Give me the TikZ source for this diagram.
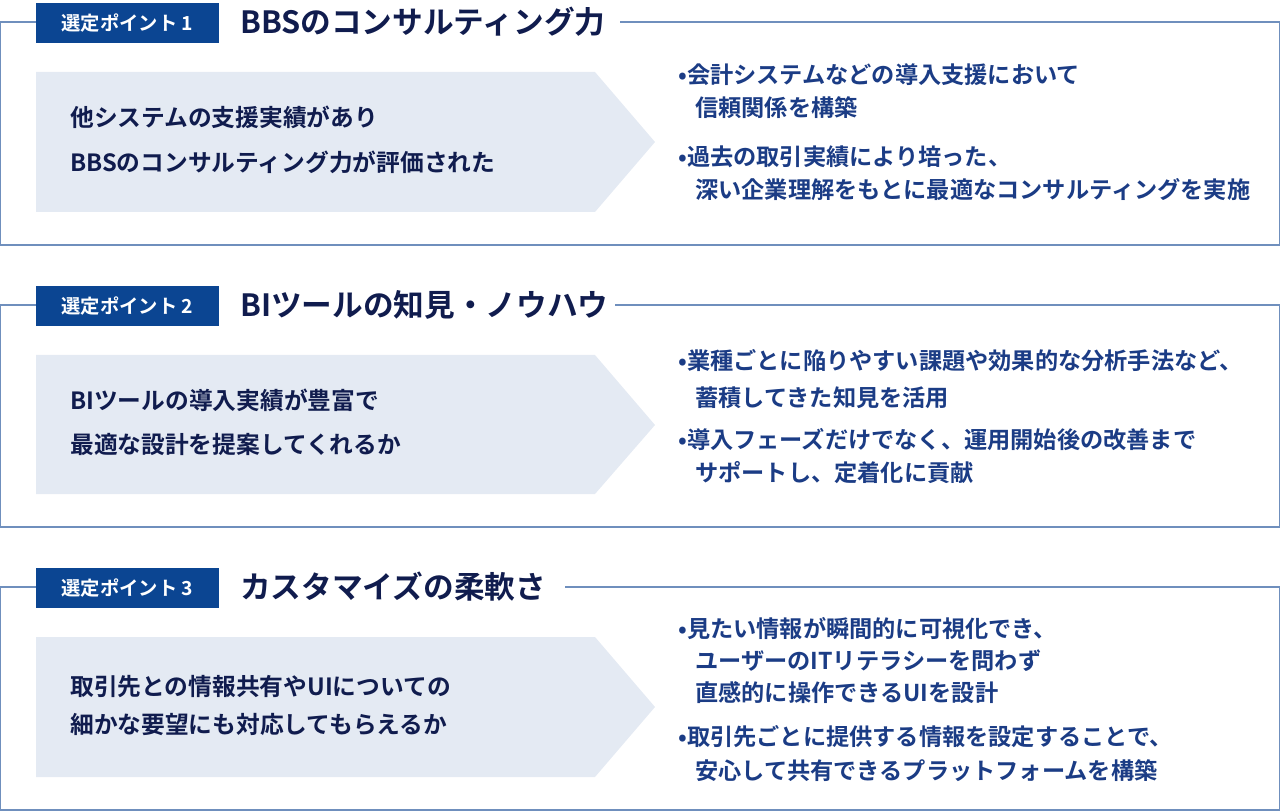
\documentclass[tikz,border=0pt]{standalone}
\usepackage{fontspec}
\setmainfont{Noto Sans CJK JP}[BoldFont={* Bold}]
\definecolor{frameC}{HTML}{6F8FBD}
\definecolor{labC}{HTML}{0B4592}
\definecolor{titC}{HTML}{101C4E}
\definecolor{greyC}{HTML}{E4EAF3}
\definecolor{bulC}{HTML}{1B3C85}
\begin{document}
\begin{tikzpicture}[x=0.75pt,y=-0.75pt,
  lab/.style={fill=labC,text=white,font=\bfseries\fontsize{14.5}{16}\selectfont,minimum width=137pt,minimum height=30pt,inner sep=0pt},
  tit/.style={text=titC,font=\bfseries\fontsize{23}{26}\selectfont,anchor=west,inner sep=0pt},
  frm/.style={draw=frameC,line width=0.9pt},
  lt/.style={text=titC,font=\bfseries\fontsize{17.8}{20}\selectfont,anchor=west,inner sep=0pt},
  bt/.style={text=bulC,font=\bfseries\fontsize{17.4}{20}\selectfont,anchor=west,inner sep=0pt}]
\useasboundingbox (0,0) rectangle (1280,812);
% section 1
\draw[frm] (36,22) -- (0.5,22) -- (0.5,245) -- (1279.5,245) -- (1279.5,22) -- (620,22);
\node[lab] (l1) at (127.5,23) {選定ポイント 1};
\node[tit] (t1) at (240,22) {BBSのコンサルティング力};
\fill[greyC] (36,72) -- (595,72) -- (655,142) -- (595,212) -- (36,212) -- cycle;
\node[lt] (a1) at (70,117) {他システムの支援実績があり};
\node[lt] (a2) at (70,162) {BBSのコンサルティング力が評価された};
\node[bt] (b1) at (678,75) {•会計システムなどの導入支援において};
\node[bt] (b2) at (695,108) {信頼関係を構築};
\node[bt] (b3) at (678,157) {•過去の取引実績により培った、};
\node[bt] (b4) at (695,190) {深い企業理解をもとに最適なコンサルティングを実施};
% section 2
\draw[frm] (36,305) -- (0.5,305) -- (0.5,527) -- (1279.5,527) -- (1279.5,305) -- (615,305);
\node[lab] (l2) at (127.5,306) {選定ポイント 2};
\node[tit] (t2) at (240,305) {BIツールの知見・ノウハウ};
\fill[greyC] (36,355) -- (595,355) -- (655,425) -- (595,494) -- (36,494) -- cycle;
\node[lt] (c1) at (70,400) {BIツールの導入実績が豊富で};
\node[lt] (c2) at (70,444) {最適な設計を提案してくれるか};
\node[bt] (d1) at (678,361) {•業種ごとに陥りやすい課題や効果的な分析手法など、};
\node[bt] (d2) at (695,398) {蓄積してきた知見を活用};
\node[bt] (d3) at (678,440) {•導入フェーズだけでなく、運用開始後の改善まで};
\node[bt] (d4) at (695,473) {サポートし、定着化に貢献};
% section 3
\draw[frm] (36,587) -- (0.5,587) -- (0.5,810) -- (1279.5,810) -- (1279.5,587) -- (565,587);
\node[lab] (l3) at (127.5,588) {選定ポイント 3};
\node[tit] (t3) at (240,587) {カスタマイズの柔軟さ};
\fill[greyC] (36,637) -- (595,637) -- (655,707) -- (595,777) -- (36,777) -- cycle;
\node[lt] (e1) at (70,687) {取引先との情報共有やUIについての};
\node[lt] (e2) at (70,725) {細かな要望にも対応してもらえるか};
\node[bt] (f1) at (678,629) {•見たい情報が瞬間的に可視化でき、};
\node[bt] (f2) at (695,661) {ユーザーのITリテラシーを問わず};
\node[bt] (f3) at (695,693) {直感的に操作できるUIを設計};
\node[bt] (f4) at (678,737) {•取引先ごとに提供する情報を設定することで、};
\node[bt] (f5) at (695,771) {安心して共有できるプラットフォームを構築};
\end{tikzpicture}
\end{document}
